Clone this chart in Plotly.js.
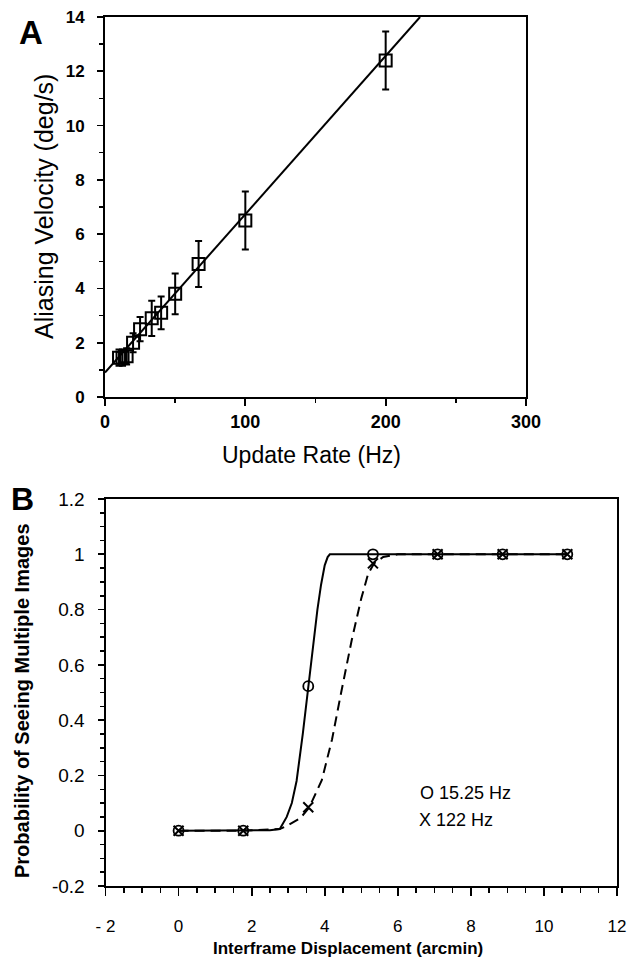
<!DOCTYPE html>
<html>
<head>
<meta charset="utf-8">
<script src="https://cdn.plot.ly/plotly-3.0.1.min.js"></script>
<style>html,body{margin:0;padding:0;background:#fff;}#chart{width:633px;height:958px;}</style>
</head>
<body>
<div id="chart"></div>
<script>
// ---------- Panel A data ----------
const updateRateHz = [10, 12.5, 15.4, 20, 25, 33.3, 40, 50, 66.7, 100, 200];
const aliasingVelocity = [1.45, 1.45, 1.5, 2.0, 2.5, 2.9, 3.1, 3.8, 4.9, 6.5, 12.4];
const aliasingError = [0.3, 0.3, 0.3, 0.35, 0.45, 0.65, 0.6, 0.75, 0.85, 1.07, 1.07];
const fitLineX = [0, 224.5];
const fitLineY = [0.9, 14];
const aXTicks = [0, 100, 200, 300];
const aYTicks = [0, 2, 4, 6, 8, 10, 12, 14];

// ---------- Panel B data ----------
const displacement = [0, 1.77, 3.55, 5.32, 7.09, 8.87, 10.64];
const prob15Hz = [0, 0, 0.523, 1.0, 1.0, 1.0, 1.0];
const prob122Hz = [0, 0, 0.085, 0.967, 1.0, 1.0, 1.0];
const curve15X = [0, 1.77, 2.5, 2.77, 2.96, 3.1, 3.23, 3.4, 3.55, 3.69, 3.8, 3.9, 4.0, 4.08, 4.14, 5.32, 7.09, 8.87, 10.64];
const curve15Y = [0, 0, 0.002, 0.006, 0.05, 0.1, 0.18, 0.35, 0.52, 0.69, 0.8, 0.89, 0.96, 0.99, 1.0, 1.0, 1.0, 1.0, 1.0];
const curve122X = [0, 1.77, 2.77, 3.0, 3.33, 3.58, 3.92, 4.2, 4.45, 4.74, 5.0, 5.19, 5.35, 5.6, 6.0, 7.09, 8.87, 10.64];
const curve122Y = [0, 0, 0.006, 0.02, 0.045, 0.085, 0.183, 0.33, 0.5, 0.69, 0.84, 0.93, 0.967, 0.99, 1.0, 1.0, 1.0, 1.0];
const bXTickVals = [-2, 0, 2, 4, 6, 8, 10, 12];
const bXTickText = ['- 2', '0', '2', '4', '6', '8', '10', '12'];
const bYTickVals = [-0.2, 0, 0.2, 0.4, 0.6, 0.8, 1, 1.2];
const bYTickText = ['-0.2', '0', '0.2', '0.4', '0.6', '0.8', '1', '1.2'];

const W = 633, H = 958;
const px = v => v / W;
const py = v => 1 - v / H;
const FONT = 'Liberation Sans, Arial, Helvetica, sans-serif';

const traces = [
  { x: fitLineX, y: fitLineY, xaxis: 'x', yaxis: 'y', mode: 'lines',
    line: { color: '#000', width: 2 }, showlegend: false, hoverinfo: 'skip' },
  { x: updateRateHz, y: aliasingVelocity, xaxis: 'x', yaxis: 'y', mode: 'markers',
    marker: { symbol: 'square-open', size: 12, color: '#000', line: { color: '#000', width: 2 } },
    error_y: { type: 'data', array: aliasingError, visible: true, color: '#000', thickness: 2, width: 3.5 },
    showlegend: false },
  { x: curve15X, y: curve15Y, xaxis: 'x2', yaxis: 'y2', mode: 'lines',
    line: { color: '#000', width: 2 }, showlegend: false, hoverinfo: 'skip' },
  { x: curve122X, y: curve122Y, xaxis: 'x2', yaxis: 'y2', mode: 'lines',
    line: { color: '#000', width: 2, dash: '10px,6px' }, showlegend: false, hoverinfo: 'skip' },
  { x: displacement, y: prob15Hz, xaxis: 'x2', yaxis: 'y2', mode: 'markers', name: '15.25 Hz',
    marker: { symbol: 'circle-open', size: 10, color: '#000', line: { color: '#000', width: 1.8 } },
    showlegend: false },
  { x: displacement, y: prob122Hz, xaxis: 'x2', yaxis: 'y2', mode: 'markers', name: '122 Hz',
    marker: { symbol: 'x-thin-open', size: 10, color: '#000', line: { color: '#000', width: 2 } },
    showlegend: false }
];

const axisCommon = {
  showgrid: false, zeroline: false, showline: true, linecolor: '#000', linewidth: 2,
  mirror: true, ticks: 'outside', tickcolor: '#000', tickwidth: 1.8
};

const layout = {
  width: W, height: H,
  margin: { l: 0, r: 0, t: 0, b: 0 },
  paper_bgcolor: '#fff', plot_bgcolor: '#fff',
  font: { family: FONT, color: '#000' },
  showlegend: false,
  xaxis: Object.assign({}, axisCommon, {
    domain: [px(105), px(526)], anchor: 'y', range: [0, 300],
    tickmode: 'array', tickvals: aXTicks, ticklen: 7,
    minor: { dtick: 50, ticks: 'outside', ticklen: 4, tickcolor: '#000', tickwidth: 1.5, showgrid: false },
    tickfont: { size: 18, family: FONT, color: '#000', weight: 'bold' },
    ticklabelstandoff: 0
  }),
  yaxis: Object.assign({}, axisCommon, {
    domain: [py(397), py(17)], anchor: 'x', range: [0, 14],
    tickmode: 'array', tickvals: aYTicks, ticklen: 6,
    minor: { dtick: 1, ticks: 'outside', ticklen: 4, tickcolor: '#000', tickwidth: 1.5, showgrid: false },
    tickfont: { size: 17, family: FONT, color: '#000', weight: 'bold' },
    ticklabelstandoff: 9
  }),
  xaxis2: Object.assign({}, axisCommon, {
    domain: [px(105.5), px(617)], anchor: 'y2', range: [-2, 12],
    tickmode: 'array', tickvals: bXTickVals, ticktext: bXTickText, ticklen: 8,
    minor: { dtick: 0.5, ticks: 'outside', ticklen: 5, tickcolor: '#000', tickwidth: 1.5, showgrid: false },
    tickfont: { size: 17, family: FONT, color: '#000' },
    ticklabelstandoff: 16
  }),
  yaxis2: Object.assign({}, axisCommon, {
    domain: [py(886), py(499)], anchor: 'x2', range: [-0.2, 1.2],
    tickmode: 'array', tickvals: bYTickVals, ticktext: bYTickText, ticklen: 6,
    minor: { dtick: 0.05, ticks: 'outside', ticklen: 4, tickcolor: '#000', tickwidth: 1.5, showgrid: false },
    tickfont: { size: 19, family: FONT, color: '#000' },
    ticklabelstandoff: 9
  }),
  annotations: [
    { text: 'A', xref: 'paper', yref: 'paper', x: px(31), y: py(33), xanchor: 'center', yanchor: 'middle',
      showarrow: false, font: { size: 33, family: FONT, color: '#000', weight: 'bold' } },
    { text: 'B', xref: 'paper', yref: 'paper', x: px(22), y: py(499), xanchor: 'center', yanchor: 'middle',
      showarrow: false, font: { size: 32, family: FONT, color: '#000', weight: 'bold' } },
    { text: 'Update Rate (Hz)', xref: 'paper', yref: 'paper', x: px(311), y: py(455), xanchor: 'center', yanchor: 'middle',
      showarrow: false, font: { size: 23, family: FONT, color: '#000' } },
    { text: 'Aliasing Velocity (deg/s)', xref: 'paper', yref: 'paper', x: px(44), y: py(207), xanchor: 'center', yanchor: 'middle',
      textangle: -90, showarrow: false, font: { size: 25, family: FONT, color: '#000' } },
    { text: 'Probability of Seeing Multiple Images', xref: 'paper', yref: 'paper', x: px(22), y: py(701), xanchor: 'center', yanchor: 'middle',
      textangle: -90, showarrow: false, font: { size: 20, family: FONT, color: '#000', weight: 'bold' } },
    { text: 'Interframe Displacement (arcmin)', xref: 'paper', yref: 'paper', x: px(348), y: py(948), xanchor: 'center', yanchor: 'middle',
      showarrow: false, font: { size: 17, family: FONT, color: '#000', weight: 'bold' } },
    { text: 'O 15.25 Hz', xref: 'paper', yref: 'paper', x: px(418), y: py(793), xanchor: 'left', yanchor: 'middle',
      showarrow: false, font: { size: 18, family: FONT, color: '#000' } },
    { text: 'X 122 Hz', xref: 'paper', yref: 'paper', x: px(417), y: py(820), xanchor: 'left', yanchor: 'middle',
      showarrow: false, font: { size: 18, family: FONT, color: '#000' } }
  ]
};

Plotly.newPlot('chart', traces, layout, { staticPlot: true, displayModeBar: false });
</script>
</body>
</html>
